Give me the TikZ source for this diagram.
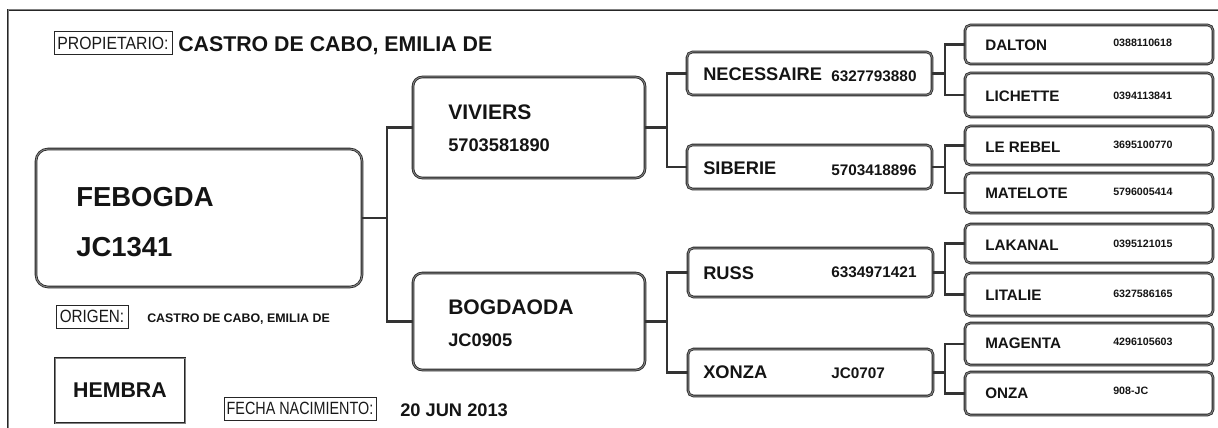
\documentclass[tikz,border=0pt]{standalone}
\usepackage{fontspec}
\setmainfont{Liberation Sans}
\usepackage{graphicx}
\begin{document}
\begin{tikzpicture}[x=0.75pt,y=-0.75pt,
  dline/.style={draw=black!85, double=black!50, double distance=0.75pt, line width=0.6pt},
  pbox/.style 2 args={dline, rectangle, minimum width=#1*0.75pt, minimum height=#2*0.75pt, inner sep=0pt},
  tagbox/.style 2 args={draw=black!85, line width=0.75pt, rectangle, minimum width=#1*0.75pt, minimum height=#2*0.75pt, inner sep=0pt, font=\fontsize{13.3}{13.3}\selectfont, text=black!90},
  conn/.style={draw=black!80, line width=1.6pt},
  lbl/.style={anchor=west, inner sep=0pt, text=black!92, font=\bfseries\fontsize{#1}{#1}\selectfont},
]
\useasboundingbox (0,0) rectangle (1218,428);
\clip (0,0) rectangle (1218,428);
% outer frame
\draw[dline] (8,445) -- (8,10) -- (1230,10);

% header
\node[tagbox={118}{23}] (prop) at (113,43.5) {\scalebox{0.89}[1]{PROPIETARIO:}};
\node[lbl=16] (owner) at (178,46) {CASTRO DE CABO, EMILIA DE};

% generation 1
\node[pbox={326}{138}, rounded corners=9pt] (feb) at (199,218) {};
\node[lbl=20.6] (febn) at (76,197) {FEBOGDA};
\node[lbl=20.6] (febi) at (76,247) {JC1341};

\node[tagbox={72}{23}] (orig) at (92,316.5) {\scalebox{0.86}[1]{ORIGEN:}};
\node[lbl=9.3] (origv) at (147,319) {CASTRO DE CABO, EMILIA DE};
\node[pbox={130}{65}, font=\bfseries\fontsize{16}{16}\selectfont, text=black!92] (sex) at (120,390.5) {HEMBRA};
\node[tagbox={152}{23}] (fecha) at (300,408.5) {\scalebox{0.81}[1]{FECHA NACIMIENTO:}};
\node[lbl=13.7] (fechav) at (400,410) {20 JUN 2013};

% generation 2
\node[pbox={232}{101}, rounded corners=7pt] (viv) at (529,127.5) {};
\node[lbl=15.8] (vivn) at (448,112) {VIVIERS};
\node[lbl=13.7] (vivi) at (448,145) {5703581890};
\node[pbox={232}{97}, rounded corners=7pt] (bog) at (529,321.5) {};
\node[lbl=15.8] (bogn) at (448,307) {BOGDAODA};
\node[lbl=13.7] (bogi) at (448,340) {JC0905};

% generation 3
\node[pbox={245}{43}, rounded corners=4pt] (nec) at (809.5,73.5) {};
\node[lbl=13.7] (necn) at (703,74) {NECESSAIRE};
\node[lbl=11.5] (neci) at (831,76) {6327793880};
\node[pbox={245}{44}, rounded corners=4pt] (sib) at (809.5,167) {};
\node[lbl=13.7] (sibn) at (703,168) {SIBERIE};
\node[lbl=11.5] (sibi) at (831,170) {5703418896};
\node[pbox={245}{49}, rounded corners=4pt] (rus) at (810.5,272.5) {};
\node[lbl=13.7] (rusn) at (703,273) {RUSS};
\node[lbl=11.5] (rusi) at (831,272) {6334971421};
\node[pbox={245}{47}, rounded corners=4pt] (xon) at (810.5,372.5) {};
\node[lbl=13.7] (xonn) at (703,372) {XONZA};
\node[lbl=11.5] (xoni) at (831,373) {JC0707};

% generation 4
\node[pbox={248}{39}, rounded corners=4pt] (dal) at (1089,44.5) {};
\node[lbl=11.4] (daln) at (985,45) {DALTON};
\node[lbl=8] (dali) at (1113,43) {0388110618};
\node[pbox={248}{44}, rounded corners=4pt] (lic) at (1089,95) {};
\node[lbl=11.4] (licn) at (985,96) {LICHETTE};
\node[lbl=8] (lici) at (1113,96) {0394113841};
\node[pbox={248}{39}, rounded corners=4pt] (leb) at (1089,145.5) {};
\node[lbl=11.4] (lebn) at (985,147) {LE REBEL};
\node[lbl=8] (lebi) at (1113,145) {3695100770};
\node[pbox={248}{40}, rounded corners=4pt] (mat) at (1089,193) {};
\node[lbl=11.4] (matn) at (985,193) {MATELOTE};
\node[lbl=8] (mati) at (1113,192) {5796005414};
\node[pbox={248}{39}, rounded corners=4pt] (lak) at (1089,243.5) {};
\node[lbl=11.4] (lakn) at (985,245) {LAKANAL};
\node[lbl=8] (laki) at (1113,244) {0395121015};
\node[pbox={248}{43}, rounded corners=4pt] (lit) at (1089,294.5) {};
\node[lbl=11.4] (litn) at (985,295) {LITALIE};
\node[lbl=8] (liti) at (1113,294) {6327586165};
\node[pbox={248}{42}, rounded corners=4pt] (mag) at (1089,344) {};
\node[lbl=11.4] (magn) at (985,343) {MAGENTA};
\node[lbl=8] (magi) at (1113,342) {4296105603};
\node[pbox={248}{43}, rounded corners=4pt] (onz) at (1089,393.5) {};
\node[lbl=11.4] (onzn) at (985,393) {ONZA};
\node[lbl=8] (onzi) at (1113,391) {908-JC};

% junctions
\coordinate (j1) at (387,218);
\coordinate (j2a) at (667,127.5);
\coordinate (j2b) at (667,321.5);
\coordinate (j3a) at (945,73.5);
\coordinate (j3b) at (945,167);
\coordinate (j3c) at (945,272.5);
\coordinate (j3d) at (945,372.5);

% connectors
\draw[conn] (feb.east) -- (j1);
\draw[conn] (viv.west) -| (j1) |- (bog.west);
\draw[conn] (viv.east) -- (j2a);
\draw[conn] (nec.west) -| (j2a) |- (sib.west);
\draw[conn] (bog.east) -- (j2b);
\draw[conn] (rus.west) -| (j2b) |- (xon.west);
\draw[conn] (nec.east) -- (j3a);
\draw[conn] (dal.west) -| (j3a) |- (lic.west);
\draw[conn] (sib.east) -- (j3b);
\draw[conn] (leb.west) -| (j3b) |- (mat.west);
\draw[conn] (rus.east) -- (j3c);
\draw[conn] (lak.west) -| (j3c) |- (lit.west);
\draw[conn] (xon.east) -- (j3d);
\draw[conn] (mag.west) -| (j3d) |- (onz.west);
\end{tikzpicture}
\end{document}
